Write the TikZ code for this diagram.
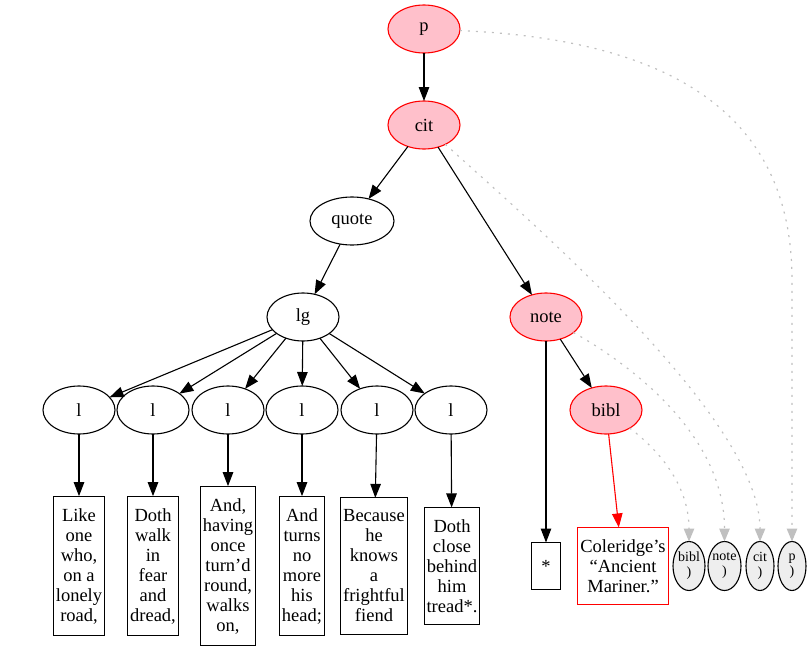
\documentclass[tikz,border=0pt]{standalone}
\usepackage{fontspec}
\setmainfont{Liberation Serif}
\usepackage{tikz,tkz-graph}
\usetikzlibrary{arrows.meta,shapes.geometric}
\definecolor{nodepink}{HTML}{FFC0CB}
\definecolor{closegray}{HTML}{EEEEEE}
\definecolor{dotgray}{HTML}{C0C0C0}
\begin{document}
\begin{tikzpicture}[x = 1pt, y = -1pt]
\useasboundingbox (0,0) rectangle (812,653);
\tikzstyle{VertexStyle} = []
\tikzstyle{EdgeStyle} = [line width = 1.1pt, -{Triangle[length = 14pt, width = 10.5pt]}]
\tikzstyle{elemStyle} = [shape = ellipse, minimum width = 72pt, minimum height = 48pt, inner sep = 0pt, draw, line width = 1.1pt, font = \fontsize{18.5}{20}\selectfont]
\tikzstyle{pinkStyle} = [elemStyle, draw = red, fill = nodepink]
\tikzstyle{textStyle} = [shape = rectangle, align = center, inner xsep = 2.5pt, inner ysep = 12pt, minimum height = 47pt, draw, line width = 1.1pt, font = \fontsize{18.5}{20}\selectfont]
\tikzstyle{closeStyle} = [shape = ellipse, minimum height = 49pt, inner sep = 0pt, align = center, draw, fill = closegray, line width = 1.1pt, font = \fontsize{14}{15}\selectfont]
\tikzstyle{dotStyle} = [dotgray, line width = 1.2pt, dash pattern = on 2pt off 6pt, -{Triangle[length = 13pt, width = 10.5pt]}]
\Vertex[style = pinkStyle, x = 424, y = 29, L = {p}]{p}
\Vertex[style = pinkStyle, x = 424, y = 125, L = {cit}]{cit}
\Vertex[style = {elemStyle, minimum width = 84pt}, x = 352, y = 221, L = {quote}]{quote}
\Vertex[style = elemStyle, x = 303, y = 317, L = {lg}]{lg}
\Vertex[style = pinkStyle, x = 546, y = 317, L = {note}]{note}
\Vertex[style = elemStyle, x = 79, y = 410, L = {l}]{l1}
\Vertex[style = elemStyle, x = 153, y = 410, L = {l}]{l2}
\Vertex[style = elemStyle, x = 228, y = 410, L = {l}]{l3}
\Vertex[style = elemStyle, x = 302, y = 410, L = {l}]{l4}
\Vertex[style = elemStyle, x = 377, y = 410, L = {l}]{l5}
\Vertex[style = elemStyle, x = 451, y = 410, L = {l}]{l6}
\Vertex[style = pinkStyle, x = 606, y = 410, L = {bibl}]{bibl}
\Vertex[style = textStyle, x = 79, y = 566, L = {Like\\one\\who,\\on a\\lonely\\road,}]{t1}
\Vertex[style = textStyle, x = 153, y = 566, L = {Doth\\walk\\in\\fear\\and\\dread,}]{t2}
\Vertex[style = textStyle, x = 228, y = 566, L = {And,\\having\\once\\turn’d\\round,\\walks\\on,}]{t3}
\Vertex[style = textStyle, x = 302, y = 566, L = {And\\turns\\no\\more\\his\\head;}]{t4}
\Vertex[style = textStyle, x = 374, y = 566, L = {Because\\he\\knows\\a\\frightful\\fiend}]{t5}
\Vertex[style = textStyle, x = 452, y = 566, L = {Doth\\close\\behind\\him\\tread*.}]{t6}
\Vertex[style = {textStyle, minimum width = 29pt}, x = 546, y = 566, L = {*}]{star}
\Vertex[style = {textStyle, draw = red, inner xsep = 3pt}, x = 623, y = 566, L = {Coleridge’s\\“Ancient\\Mariner.”}]{cole}
\Vertex[style = {closeStyle, minimum width = 32pt}, x = 689, y = 566, L = {\makebox[0pt]{bibl}\\\makebox[0pt]{)}}]{endbibl}
\Vertex[style = {closeStyle, minimum width = 33pt}, x = 724.5, y = 566, L = {\makebox[0pt]{note}\\\makebox[0pt]{)}}]{endnote}
\Vertex[style = {closeStyle, minimum width = 28pt}, x = 760, y = 566, L = {\makebox[0pt]{cit}\\\makebox[0pt]{)}}]{endcit}
\Vertex[style = {closeStyle, minimum width = 28pt}, x = 792, y = 566, L = {\makebox[0pt]{p}\\\makebox[0pt]{)}}]{endp}
\Edge(p)(cit)
\Edge(cit)(quote)
\Edge(cit)(note)
\Edge(quote)(lg)
\Edge(lg)(l1)
\Edge(lg)(l2)
\Edge(lg)(l3)
\Edge(lg)(l4)
\Edge(lg)(l5)
\Edge(lg)(l6)
\Edge(l1)(t1)
\Edge(l2)(t2)
\Edge(l3)(t3)
\Edge(l4)(t4)
\Edge(l5)(t5)
\Edge(l6)(t6)
\Edge(note)(star)
\Edge(note)(bibl)
\Edge[style = {red}](bibl)(cole)
% closing marks
\draw [dotStyle] (p) .. controls (680,40) and (792,120) .. (792,280) -- (endp);
\draw [dotStyle] (cit) .. controls (540,230) and (760,420) .. (endcit);
\draw [dotStyle] (note) .. controls (640,370) and (724.5,440) .. (endnote);
\draw [dotStyle] (bibl) .. controls (665,455) and (689,490) .. (endbibl);
\end{tikzpicture}
\end{document}
